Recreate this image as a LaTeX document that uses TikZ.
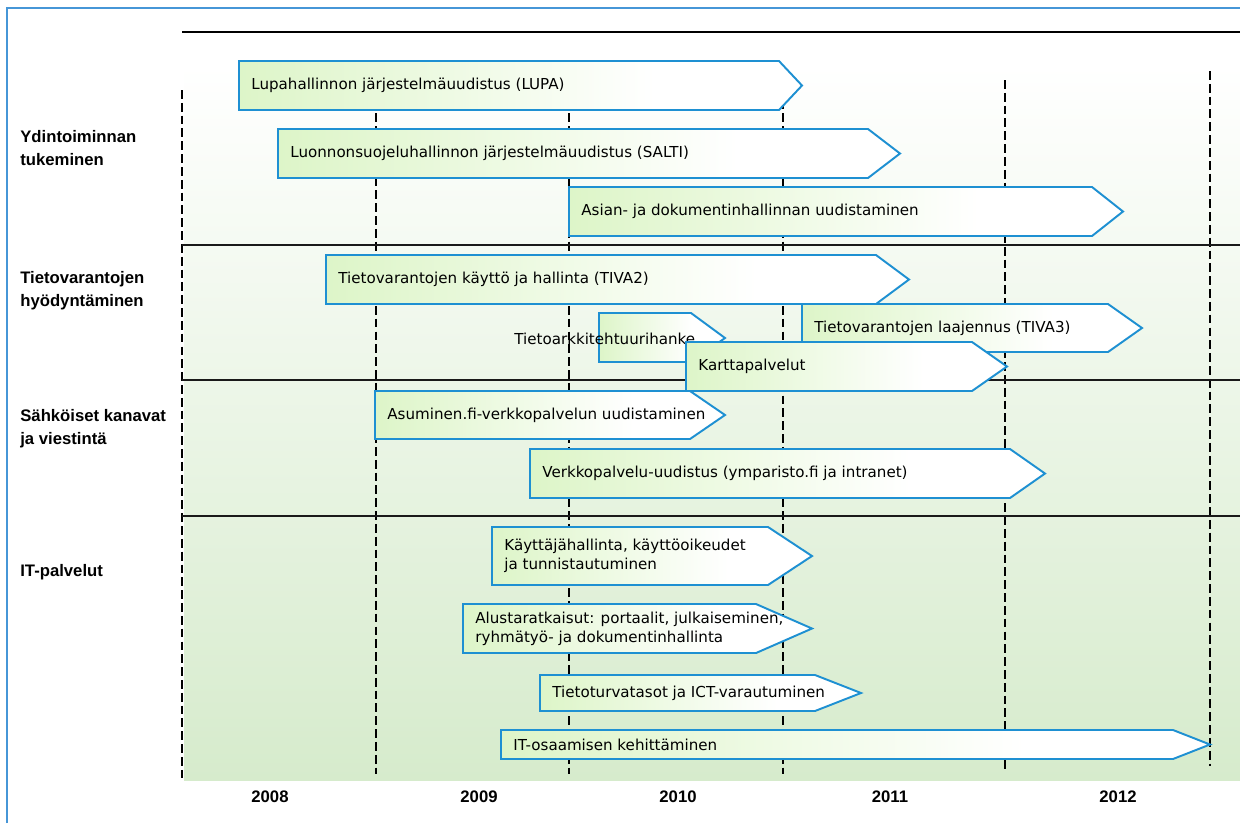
\documentclass[tikz,border=0pt]{standalone}
\usepackage{fontspec}
\setmainfont{DejaVu Sans}
\newfontfamily\headfont{Liberation Sans}

\definecolor{phaseblue}{RGB}{30,144,210}
\definecolor{phasegreen}{RGB}{221,245,200}
\definecolor{bggreen}{RGB}{214,235,204}
\definecolor{frameblue}{RGB}{70,150,215}

\pgfdeclarehorizontalshading{phaseshade}{100bp}{color(0bp)=(phasegreen); color(25bp)=(phasegreen); color(62bp)=(white); color(100bp)=(white)}

% #1 name, #2 left, #3 top, #4 bottom, #5 end of body, #6 tip, #7 text
\newcommand{\phasebar}[7]{%
  \shadedraw[phase] (#2,#3) -- (#5,#3) -- (#6,{(#3+#4)/2}) -- (#5,#4) -- (#2,#4) -- cycle;
  \node[phasetext] (#1) at (#2+12,{(#3+#4)/2}) {#7};}

\begin{document}
\begin{tikzpicture}[x=0.02cm,y=-0.02cm,
        phase/.style={draw=phaseblue,line width=1.1pt,shading=phaseshade},
        phasetext/.style={anchor=west,inner sep=0pt,align=left,
          font=\fontsize{8.6}{10.8}\selectfont},
        rowlabel/.style={anchor=west,inner sep=0pt,align=left,
          font=\headfont\bfseries\fontsize{9.5}{13}\selectfont},
        yearlabel/.style={inner sep=0pt,font=\headfont\bfseries\fontsize{9.5}{11}\selectfont},
        yearline/.style={dash pattern=on 5pt off 2.3pt,line width=1pt},
        rowline/.style={line width=1.3pt,black!90}]
      \useasboundingbox (0,0) rectangle (1240,823);
      \draw[frameblue,line width=0.8pt] (7,823) -- (7,8) -- (1240,8);
      \shade[top color=white,bottom color=bggreen] (184,65) rectangle (1240,780);
      \draw[line width=1.3pt] (182,32) -- (1240,32);
      % year borders
      \draw[yearline] (182,90) -- (182,778);
      \draw[yearline] (376,75) -- (376,774);
      \draw[yearline] (569,75) -- (569,774);
      \draw[yearline] (783,75) -- (783,774);
      \draw[yearline] (1005,80) -- (1005,770);
      \draw[yearline] (1210,71) -- (1210,766);
      % rows
      \draw[rowline] (182,245) -- (1240,245);
      \draw[rowline] (182,380) -- (1240,380);
      \draw[rowline] (182,516) -- (1240,516);
      \node[rowlabel] (ydin) at (20,148) {Ydintoiminnan\\tukeminen};
      \node[rowlabel] (tieto) at (20,291) {Tietovarantojen\\hyödyntäminen};
      \node[rowlabel] (sahko) at (20,429) {Sähköiset kanavat\\ja viestintä};
      \node[rowlabel] (itp) at (20,572) {IT-palvelut};
      \node[yearlabel] (y2008) at (270,797) {2008};
      \node[yearlabel] (y2009) at (479,797) {2009};
      \node[yearlabel] (y2010) at (678,797) {2010};
      \node[yearlabel] (y2011) at (890,797) {2011};
      \node[yearlabel] (y2012) at (1118,797) {2012};
      % projects
      \phasebar{lupa}{239}{61}{110}{779}{802}{Lupahallinnon järjestelmäuudistus (LUPA)}
      \phasebar{salti}{278}{129}{178}{868}{900}{Luonnonsuojeluhallinnon järjestelmäuudistus (SALTI)}
      \phasebar{asia}{569}{187}{236}{1092}{1123}{Asian- ja dokumentinhallinnan uudistaminen}
      \phasebar{tiva2}{326}{255}{304}{876}{909}{Tietovarantojen käyttö ja hallinta (TIVA2)}
      \shadedraw[phase] (599,313) -- (691,313) -- (725,338) -- (691,362) -- (599,362) -- cycle;
      \node[phasetext] (arkk) at (514,339) {Tietoarkkitehtuurihanke};
      \phasebar{tiva3}{802}{304}{352}{1108}{1142}{Tietovarantojen laajennus (TIVA3)}
      \phasebar{kartta}{686}{342}{391}{972}{1007}{Karttapalvelut}
      \phasebar{asum}{375}{391}{439}{690}{725}{Asuminen.fi-verkkopalvelun uudistaminen}
      \phasebar{verkko}{530}{449}{498}{1010}{1045}{Verkkopalvelu-uudistus (ymparisto.fi ja intranet)}
      \phasebar{kaytt}{492}{527}{585}{768}{812}{Käyttäjähallinta, käyttöoikeudet\\ja tunnistautuminen}
      \phasebar{alusta}{463}{604}{653}{756}{812}{Alustaratkaisut: portaalit, julkaiseminen,\\ryhmätyö- ja dokumentinhallinta}
      \phasebar{turva}{540}{675}{711}{815}{861}{Tietoturvatasot ja ICT-varautuminen}
      \phasebar{osaam}{501}{730}{759}{1173}{1210}{IT-osaamisen kehittäminen}
    \end{tikzpicture}
\end{document}
